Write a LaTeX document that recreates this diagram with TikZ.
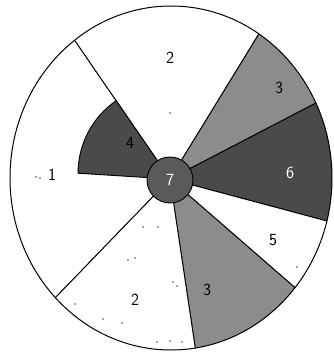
\documentclass[tikz,border=0pt]{standalone}
\usepackage{tikz}
\usetikzlibrary{calc}
\definecolor{inkdark}{HTML}{4A4A4A}
\definecolor{inkmid}{HTML}{8C8C8C}
\definecolor{inkhub}{HTML}{5A5A5A}
\tikzset{
  rim/.style     = {draw=black, line width=1pt},
  sector/.style  = {draw=black, line width=0.9pt, fill=#1},
  num/.style     = {font=\sffamily\fontsize{17}{19}\selectfont, text=#1},
  speck/.style   = {fill=black!70},
}

\begin{document}
\begin{tikzpicture}[x=1pt, y=1pt]
  \useasboundingbox (0,0) rectangle (333,354);
  \coordinate (c) at (170,175);

  %% ---- the sectors, cut off by the rim ---------------------------------------------------
  \begin{scope}
    \clip (171,176) ellipse [x radius=161, y radius=172];
    \foreach \a/\b/\f in {124.5/226/white, 58.5/124.5/white, 27.5/58.5/inkmid, -15/27.5/inkdark,
                          -41/-15/white, -81.5/-41/inkmid, -134/-81.5/white} {
      \draw[sector=\f] (c) -- ++(\a:320) arc[start angle=\a, end angle=\b, radius=320] -- cycle;
    }
    % the short dark wedge inside sector 1
    \draw[sector=inkdark] (c) -- ++(124.5:95) arc[start angle=124.5, end angle=180, radius=88] -- cycle;
  \end{scope}
  \draw[rim] (171,176) ellipse [x radius=161, y radius=172];

  % hub
  \node[circle, draw=black, line width=0.9pt, fill=inkhub, minimum size=46pt, inner sep=0pt] (hub) at (170,174) {};

  %% ---- numbers --------------------------------------------------------------------------
  \node[num=black] (n2t) at (170,296) {2};
  \node[num=black] (n3t) at (279,266) {3};
  \node[num=white] (n6)  at (290,181) {6};
  \node[num=black] (n5)  at (273,114) {5};
  \node[num=black] (n3b) at (207,64)  {3};
  \node[num=black] (n2b) at (135,54)  {2};
  \node[num=black] (n1)  at (52,179)  {1};
  \node[num=black] (n4)  at (130,211) {4};
  \node[num=white] (n7)  at (hub)     {7};

  % loose specks of the print
  \foreach \x/\y in {170/241, 36/177, 40/176, 143/127, 158/127, 128/94, 135/96, 173/72, 177/68,
                     75/50, 103/35, 122/31, 157/12, 170/13, 182/12, 297/87} {
    \fill[speck] (\x,\y) circle (0.9);
  }
\end{tikzpicture}
\end{document}
